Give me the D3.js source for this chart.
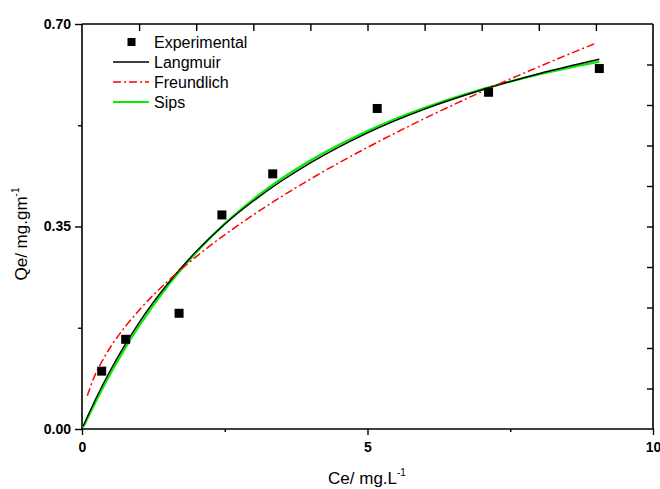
<!DOCTYPE html>
<html>
<head>
<meta charset="utf-8">
<script src="https://cdn.jsdelivr.net/npm/d3@7"></script>
<style>
html,body{margin:0;padding:0;background:#fff;}
svg{display:block;font-family:"Liberation Sans",Arial,sans-serif;}
</style>
</head>
<body>
<svg id="chart" width="660" height="489"></svg>
<script>
// Experimental data
const expCe = [0.345, 0.765, 1.70, 2.45, 3.34, 5.17, 7.12, 9.06];
const expQe = [0.100, 0.155, 0.200, 0.370, 0.441, 0.554, 0.582, 0.623];

// Langmuir fit curve
const langCe = [0.02, 0.25, 0.5, 0.75, 1.0, 1.5, 2.0, 2.5, 3.0, 3.5, 4.0, 5.0, 6.0, 7.0, 8.0, 9.06];
const langQe = [0.005, 0.054, 0.102, 0.145, 0.184, 0.251, 0.307, 0.354, 0.394, 0.429, 0.460, 0.512, 0.553, 0.586, 0.614, 0.639];

// Freundlich fit curve
const freCe = [0.093, 0.2, 0.35, 0.5, 0.75, 1.0, 1.5, 2.0, 2.5, 3.0, 4.0, 5.0, 6.0, 7.0, 8.0, 9.0];
const freQe = [0.0575, 0.0867, 0.117, 0.1417, 0.1761, 0.2054, 0.2553, 0.2978, 0.3357, 0.3701, 0.4319, 0.4867, 0.5367, 0.5829, 0.6261, 0.6669];

// Sips fit curve
const sipsCe = [0.02, 0.25, 0.5, 0.75, 1.0, 1.5, 2.0, 2.5, 3.0, 3.5, 4.0, 5.0, 6.0, 7.0, 8.0, 9.06];
const sipsQe = [0.003, 0.049, 0.096, 0.139, 0.178, 0.247, 0.305, 0.355, 0.397, 0.433, 0.464, 0.515, 0.555, 0.587, 0.613, 0.635];

const xTicks = [0, 5, 10];
const xTickLabels = ["0", "5", "10"];
const yTicks = [0, 0.35, 0.70];
const yTickLabels = ["0.00", "0.35", "0.70"];
const legendNames = ["Experimental", "Langmuir", "Freundlich", "Sips"];

const svg = d3.select("#chart");
const x = d3.scaleLinear().domain([0, 10]).range([82, 653]);
const y = d3.scaleLinear().domain([0, 0.7]).range([429, 24]);

// Axes
const bottom = d3.axisBottom(x).tickValues(xTicks).tickSize(6).tickFormat((d, i) => xTickLabels[i]);
const left = d3.axisLeft(y).tickValues(yTicks).tickSize(7).tickFormat((d, i) => yTickLabels[i]);

function styleAxis(g) {
  g.select(".domain").attr("stroke", "#000").attr("stroke-width", 1.6);
  g.selectAll(".tick line").attr("stroke", "#000").attr("stroke-width", 1.4);
  g.selectAll(".tick text").attr("fill", "#000").style("font-size", "14px").style("font-weight", "bold")
    .style("font-family", "'Liberation Sans', Arial, sans-serif");
}

const gB = svg.append("g").attr("transform", "translate(0,429)").call(bottom).call(styleAxis);
gB.select(".domain").attr("d", "M82,0H653");
gB.selectAll(".tick text").attr("dy", "0.71em").attr("y", 13);

const gL = svg.append("g").attr("transform", "translate(82,0)").call(left).call(styleAxis);
gL.select(".domain").attr("d", "M0,24V429");
gL.selectAll(".tick text").attr("x", -11);

// minor ticks bottom and left
const gBm = svg.append("g").attr("transform", "translate(0,429)")
  .call(d3.axisBottom(x).tickValues([2.5, 7.5]).tickSize(3).tickFormat(""));
gBm.select(".domain").remove();
gBm.selectAll("line").attr("stroke", "#000").attr("stroke-width", 1.4);
const gLm = svg.append("g").attr("transform", "translate(82,0)")
  .call(d3.axisLeft(y).tickValues([0.175, 0.525]).tickSize(4).tickFormat(""));
gLm.select(".domain").remove();
gLm.selectAll("line").attr("stroke", "#000").attr("stroke-width", 1.4);

// top axis (inward ticks each unit)
const gT = svg.append("g").attr("transform", "translate(0,24)")
  .call(d3.axisTop(x).tickValues(d3.range(1, 10)).tickSize(-7).tickFormat(""));
gT.select(".domain").attr("d", "M82,0H653").attr("stroke", "#000").attr("stroke-width", 1.6);
gT.selectAll("line").attr("stroke", "#000").attr("stroke-width", 1.4);

// right axis (inward ticks every 0.07)
const gR = svg.append("g").attr("transform", "translate(653,0)")
  .call(d3.axisRight(y).tickValues(d3.range(1, 10).map(i => i * 0.07)).tickSize(-6).tickFormat(""));
gR.select(".domain").attr("d", "M0,24V429").attr("stroke", "#000").attr("stroke-width", 1.6);
gR.selectAll("line").attr("stroke", "#000").attr("stroke-width", 1.4);

// Curves
const line = d3.line().x(d => x(d[0])).y(d => y(d[1])).curve(d3.curveMonotoneX);
const langData = langCe.map((c, i) => [c, langQe[i]]);
const freData = freCe.map((c, i) => [c, freQe[i]]);
const sipsData = sipsCe.map((c, i) => [c, sipsQe[i]]);

svg.append("path").datum(sipsData).attr("d", line).attr("fill", "none")
  .attr("stroke", "#00ee00").attr("stroke-width", 2.2);
svg.append("path").datum(langData).attr("d", line).attr("fill", "none")
  .attr("stroke", "#000").attr("stroke-width", 1.4);
svg.append("path").datum(freData).attr("d", line).attr("fill", "none")
  .attr("stroke", "#ff0000").attr("stroke-width", 1.5).attr("stroke-dasharray", "8,3,2,3");

// Experimental markers
const ms = 9;
svg.append("g").selectAll("rect").data(expCe.map((c, i) => [c, expQe[i]])).join("rect")
  .attr("x", d => x(d[0]) - ms / 2).attr("y", d => y(d[1]) - ms / 2)
  .attr("width", ms).attr("height", ms).attr("fill", "#000");

// Legend
const lg = svg.append("g");
const rowY = [42, 62, 82, 102];
lg.append("rect").attr("x", 127.5).attr("y", rowY[0] - 4).attr("width", 8).attr("height", 8).attr("fill", "#000");
lg.append("line").attr("x1", 113).attr("x2", 149).attr("y1", rowY[1]).attr("y2", rowY[1]).attr("stroke", "#000").attr("stroke-width", 1.4);
lg.append("line").attr("x1", 113).attr("x2", 149).attr("y1", rowY[2]).attr("y2", rowY[2]).attr("stroke", "#ff0000").attr("stroke-width", 1.5).attr("stroke-dasharray", "8,3,2,3");
lg.append("line").attr("x1", 113).attr("x2", 149).attr("y1", rowY[3]).attr("y2", rowY[3]).attr("stroke", "#00ee00").attr("stroke-width", 2);
lg.selectAll("text").data(legendNames).join("text")
  .attr("x", 154).attr("y", (d, i) => rowY[i]).attr("dy", "0.35em")
  .style("font-size", "16px").attr("fill", "#000").text(d => d);

// Axis titles
const xt = svg.append("text").attr("x", 367).attr("y", 484).attr("text-anchor", "middle")
  .style("font-size", "17px").attr("fill", "#000");
xt.append("tspan").text("Ce/ mg.L");
xt.append("tspan").attr("dy", -8).style("font-size", "10px").text("-1");

const yt = svg.append("text").attr("transform", "translate(27,234) rotate(-90)").attr("text-anchor", "middle")
  .style("font-size", "17px").attr("fill", "#000");
yt.append("tspan").text("Qe/ mg.gm");
yt.append("tspan").attr("dy", -8).style("font-size", "10px").text("-1");
</script>
</body>
</html>
